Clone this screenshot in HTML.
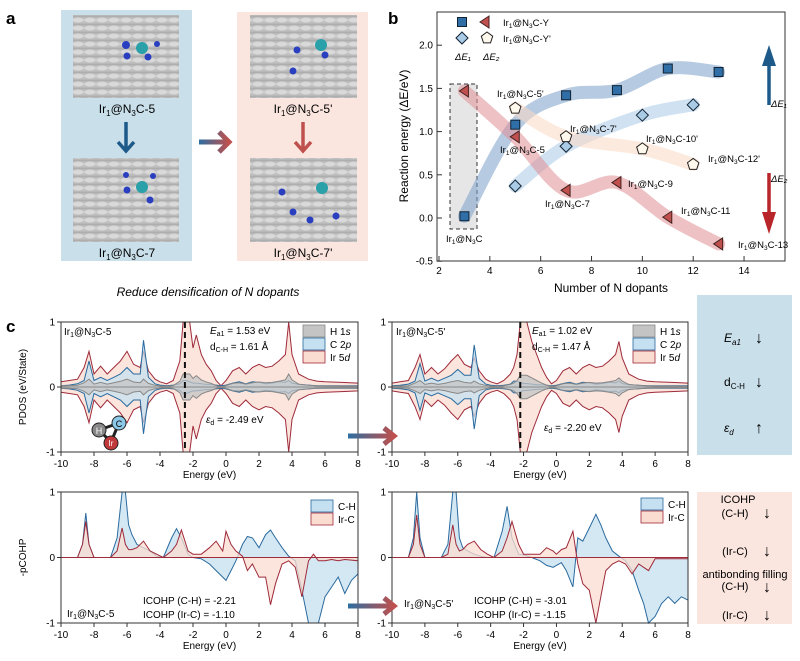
<!DOCTYPE html>
<html><head><meta charset="utf-8"><style>
html,body{margin:0;padding:0;background:#fff;width:800px;height:661px;overflow:hidden}
svg{display:block;font-family:"Liberation Sans",sans-serif}
</style></head><body>
<svg id="fig" width="800" height="661" viewBox="0 0 800 661" xmlns="http://www.w3.org/2000/svg">
<defs><linearGradient id="g1"><stop offset="0" stop-color="#2d6ea0"/><stop offset="1" stop-color="#c0504d"/></linearGradient>
<linearGradient id="surf" x1="0" y1="0" x2="0" y2="1"><stop offset="0" stop-color="#a9a9a9"/><stop offset="0.5" stop-color="#cfcfcf"/><stop offset="1" stop-color="#b5b5b5"/></linearGradient>
<pattern id="hex" width="12" height="8" patternUnits="userSpaceOnUse"><rect width="12" height="8" fill="url(#surf)"/><ellipse cx="6" cy="4" rx="5" ry="2.6" fill="#e4e4e4" opacity="0.6"/></pattern></defs>
<g>
<text x="6" y="24" font-size="17" font-weight="bold">a</text>
<rect x="61" y="10" width="131" height="251" fill="#c9dfea"/>
<rect x="237" y="12" width="131" height="249" fill="#fbe6df"/>
<rect x="73" y="15" width="106" height="83" fill="url(#hex)"/>
<rect x="73" y="158" width="106" height="84" fill="url(#hex)"/>
<rect x="250" y="15" width="107" height="83" fill="url(#hex)"/>
<rect x="250" y="158" width="107" height="84" fill="url(#hex)"/>
<g fill="#2a3fc0">
<circle cx="126" cy="45" r="4"/><circle cx="157" cy="44" r="3"/><circle cx="127" cy="56" r="3.5"/><circle cx="148" cy="57" r="3.5"/>
<circle cx="126" cy="175" r="3"/><circle cx="153" cy="176" r="3"/><circle cx="127" cy="190" r="3.5"/><circle cx="150" cy="200" r="3.5"/>
<circle cx="297" cy="50" r="3.5"/><circle cx="293" cy="71" r="3.5"/><circle cx="325" cy="55" r="3.5"/>
<circle cx="282" cy="192" r="3.5"/><circle cx="293" cy="212" r="3.5"/><circle cx="310" cy="220" r="3.5"/><circle cx="336" cy="216" r="3.5"/>
</g>
<g fill="#2aa0a8"><circle cx="142" cy="48" r="6"/><circle cx="142" cy="187" r="6"/><circle cx="321" cy="45" r="6"/><circle cx="322" cy="188" r="6"/></g>
<text x="127" y="113" font-size="12" text-anchor="middle">Ir<tspan font-size="8" dy="3">1</tspan><tspan dy="-3">@N</tspan><tspan font-size="8" dy="3">3</tspan><tspan dy="-3">C-5</tspan></text>
<text x="127" y="257" font-size="12" text-anchor="middle">Ir<tspan font-size="8" dy="3">1</tspan><tspan dy="-3">@N</tspan><tspan font-size="8" dy="3">3</tspan><tspan dy="-3">C-7</tspan></text>
<text x="303" y="113" font-size="12" text-anchor="middle">Ir<tspan font-size="8" dy="3">1</tspan><tspan dy="-3">@N</tspan><tspan font-size="8" dy="3">3</tspan><tspan dy="-3">C-5'</tspan></text>
<text x="303" y="257" font-size="12" text-anchor="middle">Ir<tspan font-size="8" dy="3">1</tspan><tspan dy="-3">@N</tspan><tspan font-size="8" dy="3">3</tspan><tspan dy="-3">C-7'</tspan></text>
<path d="M126 122 V150 M118 142 L126 151 L134 142" stroke="#1d5a8a" stroke-width="3.5" fill="none"/>
<path d="M303 122 V150 M295 142 L303 151 L311 142" stroke="#c0504d" stroke-width="3.5" fill="none"/>
<path d="M199 142 H227 M219 132 L229 142 L219 152" stroke="url(#g1)" stroke-width="5" fill="none"/>
<text x="208" y="296" font-size="12" font-style="italic" text-anchor="middle">Reduce densification of N dopants</text>
</g>
<text x="388" y="24" font-size="17" font-weight="bold">b</text>
<text x="6" y="332" font-size="17" font-weight="bold">c</text>
<g id="pb"></g>
<g id="pc"></g>
<rect x="697" y="295" width="95" height="160" fill="#c9dfea"/>
<text x="724" y="342" font-size="12" font-style="italic">E<tspan font-size="8" dy="3">a1</tspan></text>
<text x="724" y="386" font-size="12">d<tspan font-size="8" dy="3">C-H</tspan></text>
<text x="724" y="432" font-size="12" font-style="italic">ε<tspan font-size="8" dy="3">d</tspan></text>
<text x="755" y="343" font-size="16">↓</text>
<text x="755" y="387" font-size="16">↓</text>
<text x="755" y="433" font-size="16">↑</text>
<rect x="697" y="492" width="95" height="132" fill="#fbe6df"/>
<g font-size="11" text-anchor="middle">
<text x="738" y="503">ICOHP</text><text x="735" y="517">(C-H)</text>
<text x="735" y="555">(Ir-C)</text>
<text x="745" y="578">antibonding filling</text><text x="735" y="590">(C-H)</text>
<text x="735" y="619">(Ir-C)</text>
</g>
<g font-size="16"><text x="763" y="518">↓</text><text x="763" y="556">↓</text><text x="763" y="592">↓</text><text x="763" y="620">↓</text></g>
</svg>
<script>
const NS='http://www.w3.org/2000/svg';
function mk(p,t,a,txt){const e=document.createElementNS(NS,t);for(const k in a)e.setAttribute(k,a[k]);if(txt!==undefined)e.textContent=txt;p.appendChild(e);return e;}
const nDopants=[3,5,7,9,11,13];
const dE1Y=[0.02,1.08,1.42,1.48,1.73,1.69];
const dE2Y=[1.47,0.94,0.32,0.41,0.01,-0.30];
const nDopantsP=[5,7,10,12];
const dE1Yp=[0.37,0.83,1.19,1.31];
const dE2Yp=[1.27,0.94,0.80,0.62];
const xTicksB=[2,4,6,8,10,12,14];
const yTicksB=[-0.5,0.0,0.5,1.0,1.5,2.0];
const pb=document.getElementById('pb');
const bx=v=>439+(v-2)*25.42, by=v=>218-v*86.4;
mk(pb,'rect',{x:437,y:12,width:348,height:249,fill:'none',stroke:'#333','stroke-width':1});
for(const t of xTicksB){mk(pb,'line',{x1:bx(t),x2:bx(t),y1:261,y2:256,stroke:'#333'});const l=mk(pb,'text',{x:bx(t),y:274,'font-size':10,'text-anchor':'middle'},t);}
for(const t of yTicksB){mk(pb,'line',{x1:437,x2:442,y1:by(t),y2:by(t),stroke:'#333'});const l=mk(pb,'text',{x:433,y:by(t)+3.5,'font-size':10,'text-anchor':'end'},t.toFixed(1));}
const xt=mk(pb,'text',{x:611,y:292,'font-size':12,'text-anchor':'middle'},'Number of N dopants');


const yt=mk(pb,'text',{x:0,y:0,'font-size':12,'text-anchor':'middle',transform:'translate(408,136) rotate(-90)'},'Reaction energy (ΔE/eV)');


mk(pb,'rect',{x:450,y:84,width:27,height:145,fill:'#e6e6e6',stroke:'#333','stroke-dasharray':'4 3'});
function band(xs,ys,col){let pts=xs.map((x,i)=>[bx(x),by(ys[i])]);let d='M'+pts[0].join(' ');for(let i=1;i<pts.length;i++){const p0=pts[Math.max(0,i-2)],p1=pts[i-1],p2=pts[i],p3=pts[Math.min(pts.length-1,i+1)];const c1=[p1[0]+(p2[0]-p0[0])/6,p1[1]+(p2[1]-p0[1])/6],c2=[p2[0]-(p3[0]-p1[0])/6,p2[1]-(p3[1]-p1[1])/6];d+=` C${c1.join(' ')} ${c2.join(' ')} ${p2.join(' ')}`;}const p=mk(pb,'path',{d,stroke:col,'stroke-width':13,fill:'none','stroke-linecap':'round','stroke-linejoin':'round',opacity:0.55});}
band(nDopants,dE1Y,'#7a9fcb');band(nDopantsP,dE1Yp,'#a9cbe6');band(nDopants,dE2Y,'#e08e93');band(nDopantsP,dE2Yp,'#fbd9c4');
function marker(type,cx,cy){let e;
 if(type==='sq')e=mk(pb,'rect',{x:cx-4.5,y:cy-4.5,width:9,height:9,fill:'#2f6ea6',stroke:'#123',});
 else if(type==='di')e=mk(pb,'path',{d:`M${cx} ${cy-6}L${cx+6} ${cy}L${cx} ${cy+6}L${cx-6} ${cy}Z`,fill:'#a9cbe6',stroke:'#123'});
 else if(type==='tr')e=mk(pb,'path',{d:`M${cx-5} ${cy}L${cx+4} ${cy-6}L${cx+4} ${cy+6}Z`,fill:'#c0504d',stroke:'#422'});
 else e=mk(pb,'path',{d:`M${cx} ${cy-6}L${cx+5.7} ${cy-1.8}L${cx+3.5} ${cy+4.9}L${cx-3.5} ${cy+4.9}L${cx-5.7} ${cy-1.8}Z`,fill:'#fff8ec',stroke:'#222'});
 
 }
nDopants.forEach((x,i)=>marker('sq',bx(x),by(dE1Y[i])));
nDopantsP.forEach((x,i)=>marker('di',bx(x),by(dE1Yp[i])));
nDopants.forEach((x,i)=>marker('tr',bx(x),by(dE2Y[i])));
nDopantsP.forEach((x,i)=>marker('pe',bx(x),by(dE2Yp[i])));
function lab(x,y,suf){const t=mk(pb,'text',{x,y,'font-size':9.5},'');t.innerHTML='Ir<tspan font-size="6.5" dy="2">1</tspan><tspan dy="-2">@N</tspan><tspan font-size="6.5" dy="2">3</tspan><tspan dy="-2">C'+suf+'</tspan>';}
lab(497,97,'-5\'');lab(500,153,'-5');lab(570,132,'-7\'');lab(646,142,'-10\'');lab(708,162,'-12\'');lab(545,207,'-7');lab(628,187,'-9');lab(681,214,'-11');lab(738,248,'-13');lab(446,242,'');
marker('sq',462,22);marker('tr',485,22);marker('di',462,38);marker('pe',487,38);
lab(503,26,'-Y');lab(503,42,'-Y\'');
mk(pb,'text',{x:455,y:60,'font-size':9.5,'font-style':'italic'},'ΔE₁');mk(pb,'text',{x:483,y:60,'font-size':9.5,'font-style':'italic'},'ΔE₂');
mk(pb,'path',{d:'M769 105 V62',stroke:'#1d5a8a','stroke-width':3.5});mk(pb,'path',{d:'M762 66 L769 45 L776 66Z',fill:'#1d5a8a'});
mk(pb,'path',{d:'M769 173 V215',stroke:'#b8262a','stroke-width':3.5});mk(pb,'path',{d:'M762 212 L769 234 L776 212Z',fill:'#b8262a'});
mk(pb,'text',{x:771,y:107,'font-size':9.5,'font-style':'italic'},'ΔE₁');mk(pb,'text',{x:771,y:182,'font-size':9.5,'font-style':'italic'},'ΔE₂');
const energy=[-10,-9.5,-9,-8.6,-8.3,-8,-7.6,-7.2,-6.8,-6.4,-6,-5.6,-5.2,-5,-4.7,-4.3,-4,-3.6,-3.2,-2.8,-2.6,-2.4,-2.2,-2,-1.8,-1.5,-1.2,-0.9,-0.6,-0.3,0,0.4,0.8,1.2,1.6,2,2.4,2.8,3.2,3.6,3.8,4,4.4,5,5.5,6,7,8];
const ir5d_A=[0.08,0.1,0.12,0.3,0.55,0.2,0.32,0.2,0.3,0.4,0.55,0.35,0.3,0.55,0.25,0.12,0.08,0.05,0.1,0.4,1,1,1,0.6,0.8,0.5,0.35,0.25,0.1,0.02,0.1,0.25,0.3,0.2,0.3,0.35,0.3,0.32,0.4,0.5,1,0.5,0.2,0.12,0.09,0.08,0.07,0.06];
const c2p_A=[0.02,0.03,0.05,0.1,0.4,0.1,0.15,0.1,0.15,0.2,0.3,0.2,0.2,0.72,0.15,0.05,0.03,0.02,0.03,0.05,0.1,0.1,0.08,0.06,0.06,0.05,0.04,0.04,0.03,0.02,0.03,0.06,0.08,0.05,0.08,0.07,0.05,0.06,0.08,0.07,0.1,0.06,0.04,0.03,0.02,0.02,0.02,0.02];
const ir5d_B=[0.06,0.08,0.1,0.3,0.5,0.2,0.3,0.2,0.28,0.4,0.5,0.35,0.3,0.45,0.25,0.12,0.08,0.05,0.1,0.2,0.3,0.5,1,1,1,0.7,0.5,0.3,0.15,0.05,0.1,0.25,0.3,0.2,0.3,0.35,0.3,0.32,0.4,0.5,0.7,0.45,0.2,0.12,0.09,0.08,0.07,0.06];
const c2p_B=c2p_A.map(v=>v*0.9);
const cohpE=[-10,-9,-8.7,-8.5,-8.3,-8,-7,-6.6,-6.3,-6.1,-5.9,-5.7,-5.4,-5,-4.6,-4.2,-3.8,-3.3,-3,-2.7,-2.3,-2,-1.5,-1,-0.6,-0.2,0,0.3,0.6,1,1.3,1.6,2,2.4,2.7,3,3.4,3.8,4.2,4.6,5,5.3,5.6,6,6.4,6.8,7.2,7.6,8];
const chA=[0,0,0.2,0.68,0.2,0,0,0.3,1,1,0.5,0.35,0.2,0.15,0.1,0.02,0,0.3,0.44,0.3,0.05,0,-0.02,-0.1,-0.2,-0.3,-0.35,-0.2,-0.05,0.2,0.32,0.3,0.15,0.35,0.42,0.3,0.15,0.02,-0.05,-0.5,-1,-1,-1,-0.6,-0.45,-0.3,-0.55,-0.35,-0.25];
const ircA=[0,0,0.2,0.55,0.2,0,0,0.1,0.45,0.2,0.12,0.12,0.15,0.25,0.1,0.05,0,0.1,0.2,0.42,0.1,0.05,0.05,0.15,0.25,0.1,0.4,0.2,0.1,0.02,-0.2,-0.1,-0.3,-0.3,-0.72,-0.4,-0.1,-0.05,-0.15,-0.6,-0.05,0.05,-0.05,-0.05,-0.03,-0.05,-0.03,-0.04,-0.05];
const chB=[0,0,0.3,1,0.3,0,0,0.2,1,1,0.3,0.15,0.1,0.05,0.02,0,0,0.4,0.78,0.3,0.05,0.04,0,-0.05,-0.12,-0.15,-0.12,-0.08,-0.2,-0.45,0.3,0.25,0.45,0.66,0.5,0.3,0.1,0.02,-0.05,-0.2,-0.5,-0.7,-1,-0.9,-0.7,-0.6,-0.7,-0.6,-0.65];
const ircB=[0,0,0.2,0.65,0.2,0,0,0.05,0.5,0.2,0.1,0.12,0.2,0.25,0.12,0.05,0,0.1,0.3,0.55,0.2,0.05,0.05,0.05,0.15,0.1,0.05,0.12,0.15,0.4,-0.1,-0.4,-0.5,-1,-0.6,-0.2,-0.1,-0.05,-0.1,-0.25,-0.1,-0.15,-0.2,-0.02,-0.02,-0.02,-0.02,-0.02,-0.02];
const xTicksC=[-10,-8,-6,-4,-2,0,2,4,6,8];
const yTicksC=[-1,0,1];
const pc=document.getElementById('pc');
function plot(x0,y0,w,h,E,series,opts){
 const sx=v=>x0+(v+10)/18*w, sy=v=>y0+h/2-Math.max(-1,Math.min(1,v))*h/2;
 const g=mk(pc,'g',{});
 
 
 for(const s of series){
  let up='',lo='';E.forEach((e,i)=>{up+=(i?'L':'M')+sx(e).toFixed(1)+' '+sy(s.v[i]).toFixed(1);lo+=(i?'L':'M')+sx(e).toFixed(1)+' '+sy(-s.v[i]).toFixed(1);});
  const base=`L${sx(E[E.length-1])} ${sy(0)}L${sx(E[0])} ${sy(0)}Z`;
  const a=mk(g,'path',{d:up+base,fill:s.fill,stroke:s.stroke,'stroke-width':1,'fill-opacity':0.75});
  
  
  if(s.mirror){const b=mk(g,'path',{d:lo+base,fill:s.fill,stroke:s.stroke,'stroke-width':1,'fill-opacity':0.75});}
 }
 mk(g,'rect',{x:x0,y:y0,width:w,height:h,fill:'none',stroke:'#333'});
 for(const t of xTicksC){mk(g,'line',{x1:sx(t),x2:sx(t),y1:y0+h,y2:y0+h+4,stroke:'#333'});mk(g,'text',{x:sx(t),y:y0+h+15,'font-size':10,'text-anchor':'middle'},t);}
 for(const t of yTicksC){mk(g,'line',{x1:x0-4,x2:x0,y1:sy(t),y2:sy(t),stroke:'#333'});mk(g,'text',{x:x0-6,y:sy(t)+3.5,'font-size':10,'text-anchor':'end'},t);}
 mk(g,'text',{x:x0+w/2,y:y0+h+26,'font-size':10,'text-anchor':'middle'},'Energy (eV)');
 if(opts.ytitle)mk(g,'text',{x:0,y:0,'font-size':10,'text-anchor':'middle',transform:`translate(${x0-35},${y0+h/2}) rotate(-90)`},opts.ytitle);
 if(opts.vline!==undefined)mk(g,'line',{x1:sx(opts.vline),x2:sx(opts.vline),y1:y0,y2:y0+h,stroke:'#111','stroke-width':2,'stroke-dasharray':'6 4'});
 return {sx,sy,g};
}
const irCol={fill:'#fbdcd0',stroke:'#9e2a3a'}, cCol={fill:'#c5e0f0',stroke:'#2a6a9e'}, hCol={fill:'#c4c4c4',stroke:'#888'};
const h1=ir5d_A.map(v=>Math.min(v*0.22,0.2)), h2=ir5d_B.map(v=>Math.min(v*0.2,0.18));
const P1=plot(61,322,297,130,energy,[{v:ir5d_A,...irCol,mirror:1},{v:c2p_A,...cCol,mirror:1},{v:h1,...hCol,mirror:1}],{name:'pdos-5',ytitle:'PDOS (eV/State)',vline:-2.49});
const P2=plot(392,322,296,130,energy,[{v:ir5d_B,...irCol,mirror:1},{v:c2p_B,...cCol,mirror:1},{v:h2,...hCol,mirror:1}],{name:'pdos-5p',vline:-2.20});
const P3=plot(61,492,297,131,cohpE,[{v:chA,...cCol},{v:ircA,...irCol}],{name:'cohp-5',ytitle:'-pCOHP'});
const P4=plot(392,492,296,131,cohpE,[{v:chB,...cCol},{v:ircB,...irCol}],{name:'cohp-5p'});
function irl(g,x,y,suf){const t=mk(g,'text',{x,y,'font-size':10},'');t.innerHTML='Ir<tspan font-size="7" dy="2">1</tspan><tspan dy="-2">@N</tspan><tspan font-size="7" dy="2">3</tspan><tspan dy="-2">C'+suf+'</tspan>';}
irl(P1.g,64,335,'-5');irl(P2.g,396,335,'-5\'');irl(P3.g,67,617,'-5');irl(P4.g,404,607,'-5\'');
function tx(g,x,y,s,fs){const t=mk(g,'text',{x,y,'font-size':fs||10},'');t.innerHTML=s;}
tx(P1.g,210,334,'<tspan font-style="italic">E</tspan><tspan font-size="7" dy="2">a1</tspan><tspan dy="-2"> = 1.53 eV</tspan>');
tx(P1.g,210,350,'d<tspan font-size="7" dy="2">C-H</tspan><tspan dy="-2"> = 1.61 Å</tspan>');
tx(P1.g,206,423,'<tspan font-style="italic">ε</tspan><tspan font-size="7" dy="2">d</tspan><tspan dy="-2"> = -2.49 eV</tspan>');
tx(P2.g,532,334,'<tspan font-style="italic">E</tspan><tspan font-size="7" dy="2">a1</tspan><tspan dy="-2"> = 1.02 eV</tspan>');
tx(P2.g,532,350,'d<tspan font-size="7" dy="2">C-H</tspan><tspan dy="-2"> = 1.47 Å</tspan>');
tx(P2.g,544,431,'<tspan font-style="italic">ε</tspan><tspan font-size="7" dy="2">d</tspan><tspan dy="-2"> = -2.20 eV</tspan>');
tx(P3.g,143,604,'ICOHP (C-H) = -2.21');tx(P3.g,143,618,'ICOHP (Ir-C) = -1.10');
tx(P4.g,474,604,'ICOHP (C-H) = -3.01');tx(P4.g,474,618,'ICOHP (Ir-C) = -1.15');
function legend(g,x,y,items){items.forEach((it,i)=>{mk(g,'rect',{x,y:y+i*13,width:22,height:12,fill:it.fill,stroke:it.stroke,'stroke-width':0.8});tx(g,x+27,y+i*13+10,it.t);});}
legend(P1.g,303,325,[{...hCol,t:'H 1<tspan font-style="italic">s</tspan>'},{...cCol,t:'C 2<tspan font-style="italic">p</tspan>'},{...irCol,t:'Ir 5<tspan font-style="italic">d</tspan>'}]);
legend(P2.g,633,325,[{...hCol,t:'H 1<tspan font-style="italic">s</tspan>'},{...cCol,t:'C 2<tspan font-style="italic">p</tspan>'},{...irCol,t:'Ir 5<tspan font-style="italic">d</tspan>'}]);
legend(P3.g,311,500,[{...cCol,t:'C-H'},{...irCol,t:'Ir-C'}]);
legend(P4.g,641,498,[{...cCol,t:'C-H'},{...irCol,t:'Ir-C'}]);
const m=mk(pc,'g',{});
mk(m,'path',{d:'M99 430 L119 423 L111 442Z',stroke:'#222','stroke-width':3,fill:'none'});
mk(m,'circle',{cx:99,cy:430,r:7,fill:'#888',stroke:'#222'});mk(m,'text',{x:99,y:434,'font-size':9,'text-anchor':'middle',fill:'#fff'},'H');
mk(m,'circle',{cx:119,cy:423,r:7,fill:'#8cc8e8',stroke:'#222'});mk(m,'text',{x:119,y:427,'font-size':9,'text-anchor':'middle'},'C');
mk(m,'circle',{cx:111,cy:443,r:7,fill:'#c0393b',stroke:'#222'});mk(m,'text',{x:111,y:446,'font-size':8,'text-anchor':'middle',fill:'#fff'},'Ir');
for(const y of [436,606]){const a=mk(pc,'path',{d:`M348 ${y} H392 M384 ${y-8} L394 ${y} L384 ${y+8}`,stroke:'url(#g1)','stroke-width':5,fill:'none'});}
</script>
</body></html>
